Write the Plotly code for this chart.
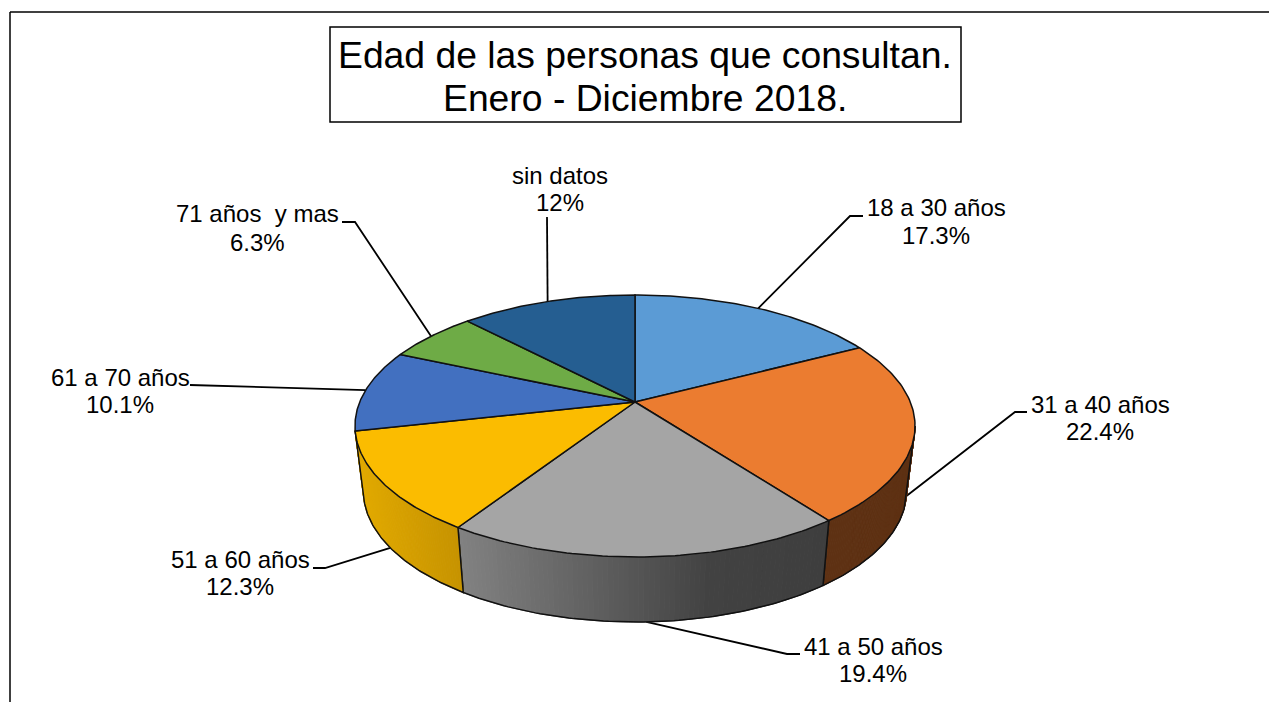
import numpy as np
import plotly.graph_objects as go

categories = ["18 a 30 años", "31 a 40 años", "41 a 50 años", "51 a 60 años",
              "61 a 70 años", "71 años \u00a0y mas", "sin datos"]
values = [17.3, 22.4, 19.4, 12.3, 10.1, 6.3, 12.1]
value_labels = ["17.3%", "22.4%", "19.4%", "12.3%", "10.1%", "6.3%", "12%"]
top_colors = ["#5B9BD5", "#EB7C30", "#A5A5A5", "#FBBC00", "#4270C0", "#6EAB46", "#255E91"]
title_lines = ["Edad de las personas que consultan.", "Enero - Diciembre 2018."]

# layout of the drawing, in page pixels
CX, CY, A, B, K = 635, 402, 275.3, 126.6, 0.1832
DEPTH, BOTTOM_SCALE = 65, 0.97
label_x = [936, 1100, 873, 240, 120, 257, 560]
label_y = [(207, 235), (404, 431), (646, 673), (559, 586), (377, 404), (213, 242), (175, 202)]
elbows = [[(850, 216), (863, 216)], [(1015, 412), (1027, 412)], [(787, 654), (800, 654)],
          [(325, 568), (313, 568)], [(190, 385), (190, 385)], [(355, 222), (342, 222)],
          [(547, 217), (547, 217)]]
FONT = "Liberation Sans, Arial, sans-serif"


def top(t):
    w = 1 + K * np.cos(t)
    return CX + A * np.sin(t) / w, CY - B * np.cos(t) / w


def bottom(t):
    x, y = top(t)
    return CX + BOTTOM_SCALE * (x - CX), y + DEPTH


def lerp_hex(stops, u):
    xs = [s[0] for s in stops]
    rgb = [np.interp(u, xs, [s[1][i] for s in stops]) for i in range(3)]
    return "rgb(%d,%d,%d)" % tuple(int(round(c)) for c in rgb)


# wall shading as a function of page x
wall_shades = {
    1: [(600, (94, 49, 19)), (920, (94, 49, 19))],
    2: [(455, (130, 130, 130)), (560, (104, 104, 104)), (640, (84, 84, 84)),
        (710, (66, 66, 66)), (830, (62, 62, 62))],
    3: [(355, (226, 170, 0)), (465, (196, 145, 0))],
}

total = sum(values)
edges = 2 * np.pi * np.cumsum([0] + values) / total
t_right = np.arccos(-K)
t_left = 2 * np.pi - t_right

fig = go.Figure()


def add(x, y, **kw):
    fig.add_trace(go.Scatter(x=x, y=y, mode="lines", hoverinfo="skip", showlegend=False, **kw))


# leader lines, underneath the pie
for i, el in enumerate(elbows):
    mid = (edges[i] + edges[i + 1]) / 2
    front = t_right < mid < t_left
    ax, ay = bottom(mid) if front else top(mid)
    add([ax] + [p[0] for p in el], [ay] + [p[1] for p in el],
        line=dict(color="black", width=1.8))

# walls
for i in wall_shades:
    t0 = max(edges[i], t_right)
    t1 = min(edges[i + 1], t_left)
    ts = np.linspace(t0, t1, 80)
    for a, b in zip(ts[:-1], ts[1:]):
        x1, y1 = top(a); x2, y2 = top(b); x3, y3 = bottom(b); x4, y4 = bottom(a)
        c = lerp_hex(wall_shades[i], (x1 + x2) / 2)
        add([x1, x2, x3, x4, x1], [y1, y2, y3, y4, y1], fill="toself", fillcolor=c,
            line=dict(color=c, width=1))
    tt = np.linspace(t0, t1, 80)
    bx, by = bottom(tt)
    tx0, ty0 = top(t0); tx1, ty1 = top(t1)
    add(np.r_[tx0, bx, tx1], np.r_[ty0, by, ty1], line=dict(color="#111111", width=1.5))

# top surface
for i in range(len(values)):
    ts = np.linspace(edges[i], edges[i + 1], 80)
    x, y = top(ts)
    add(np.r_[CX, x, CX], np.r_[CY, y, CY], fill="toself", fillcolor=top_colors[i],
        line=dict(color="#111111", width=1.5))

ann = []
for i, cat in enumerate(categories):
    for txt, yy in zip((cat, value_labels[i]), label_y[i]):
        ann.append(dict(x=label_x[i], y=yy, text=txt, showarrow=False, xanchor="center",
                        yanchor="middle", font=dict(family=FONT, size=24, color="black")))
for txt, yy in zip(title_lines, (55, 98)):
    ann.append(dict(x=644.8, y=yy, text=txt, showarrow=False, xanchor="center", yanchor="middle",
                    font=dict(family=FONT, size=37.3, color="black")))

shapes = [
    dict(type="line", x0=10, x1=1269, y0=12, y1=12, line=dict(color="black", width=1.5)),
    dict(type="line", x0=10, x1=10, y0=12, y1=702, line=dict(color="black", width=1.5)),
    dict(type="rect", x0=330, x1=961, y0=27, y1=122, fillcolor="white",
         line=dict(color="black", width=1.5), layer="below"),
]

fig.update_layout(
    width=1269, height=702, margin=dict(l=0, r=0, t=0, b=0),
    paper_bgcolor="white", plot_bgcolor="white", hovermode=False,
    xaxis=dict(range=[0, 1269], visible=False, fixedrange=True),
    yaxis=dict(range=[702, 0], visible=False, fixedrange=True),
    annotations=ann, shapes=shapes,
)
fig.write_html("out.html", config=dict(displayModeBar=False),
               post_script="document.body.style.margin='0';document.body.style.overflow='hidden';")
